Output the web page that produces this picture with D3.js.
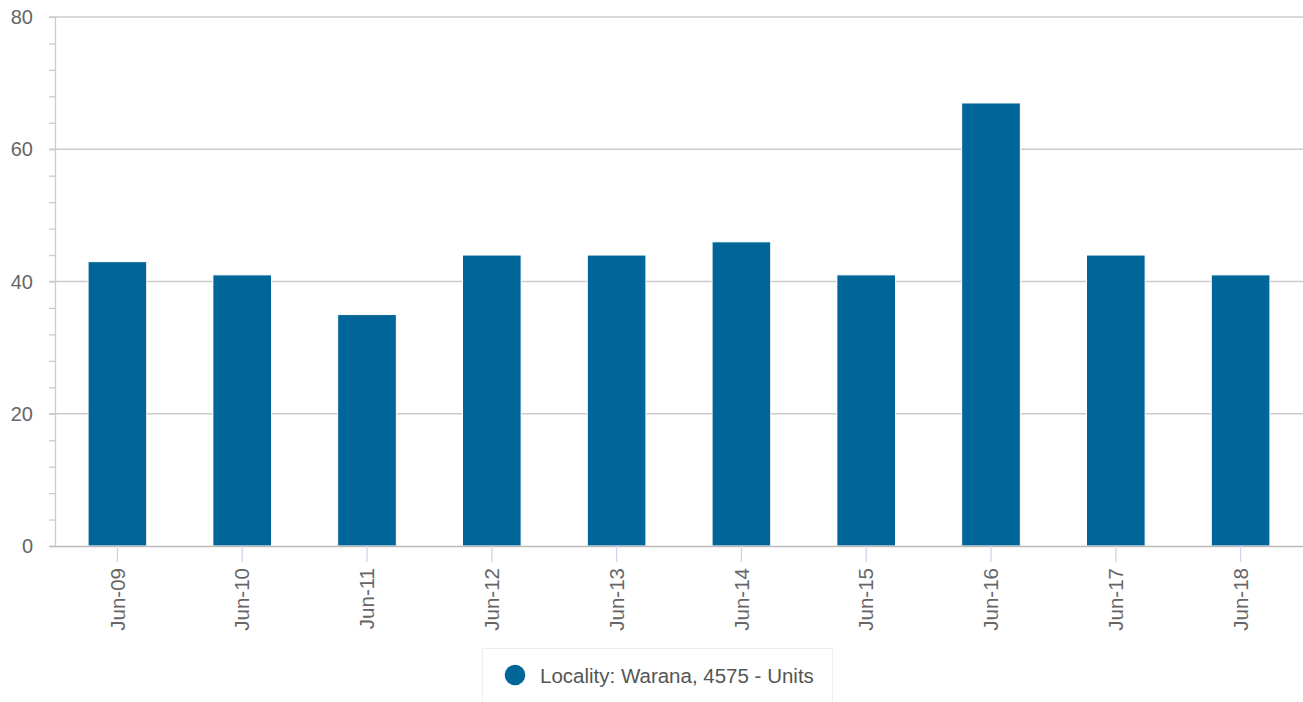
<!DOCTYPE html>
<html>
<head>
<meta charset="utf-8"/>
<script src="https://d3js.org/d3.v7.min.js"></script>
<style>
  body { margin: 0; background: #fff; }
  text { font-family: "Liberation Sans", Arial, sans-serif; }
</style>
</head>
<body>
<div id="chart"></div>
<script>
// data
var categories = ["Jun-09", "Jun-10", "Jun-11", "Jun-12", "Jun-13", "Jun-14", "Jun-15", "Jun-16", "Jun-17", "Jun-18"];
var values = [43, 41, 35, 44, 44, 46, 41, 67, 44, 41];
var yTicks = [0, 20, 40, 60, 80];
var seriesName = "Locality: Warana, 4575 - Units";

var W = 1303, H = 702;
var margin = {top: 17, right: 0, bottom: 156, left: 55};
var width = W - margin.left - margin.right,
    height = H - margin.top - margin.bottom;

var svg = d3.select("#chart").append("svg")
    .attr("width", W).attr("height", H);
var g = svg.append("g")
    .attr("transform", "translate(" + margin.left + "," + margin.top + ")");

var x = d3.scaleBand().domain(categories).range([0, width]).paddingInner(0.53).paddingOuter(0.265);
var y = d3.scaleLinear().domain([0, 80]).range([height, 0]);

// gridlines
g.selectAll(".grid").data(yTicks.slice(1)).enter().append("line")
    .attr("x1", -6).attr("x2", width)
    .attr("y1", function(d) { return y(d); }).attr("y2", function(d) { return y(d); })
    .attr("stroke", "#cccccc").attr("stroke-width", 1.3);

// y axis with minor ticks every 4
var yAxis = g.append("g").call(d3.axisLeft(y).tickValues(d3.range(0, 81, 4)).tickSize(6).tickFormat(""));
yAxis.select(".domain").attr("stroke", "#cccccc").attr("stroke-width", 1.3).attr("d", "M0.5," + height + "V0");
yAxis.selectAll(".tick line").attr("stroke", "#cccccc").attr("stroke-width", 1.3);

g.selectAll(".ylab").data(yTicks).enter().append("text")
    .attr("x", -22).attr("y", function(d) { return y(d); })
    .attr("dy", "0.35em").attr("text-anchor", "end")
    .style("font-size", "20px").attr("fill", "#666666")
    .text(function(d) { return d; });

// bars
g.selectAll(".bar").data(values).enter().append("rect")
    .attr("x", function(d, i) { return x(categories[i]); })
    .attr("y", function(d) { return y(d); })
    .attr("width", x.bandwidth())
    .attr("height", function(d) { return height - y(d); })
    .attr("fill", "#006699")
    .attr("stroke", "#ffffff").attr("stroke-width", 1);

// x axis
var xAxis = g.append("g").attr("transform", "translate(0," + height + ")")
    .call(d3.axisBottom(x).tickSize(16).tickSizeOuter(0));
xAxis.select(".domain").attr("stroke", "#bbbbbb").attr("stroke-width", 1.5).attr("d", "M-6,0.5H" + width);
xAxis.selectAll(".tick line").attr("stroke", "#ccd6eb").attr("stroke-width", 1.3);
xAxis.selectAll(".tick text")
    .attr("transform", "rotate(-90)")
    .attr("x", -22).attr("y", 0).attr("dy", "0.35em")
    .attr("text-anchor", "end")
    .style("font-size", "20.5px").style("font-family", "'Liberation Sans', Arial, sans-serif")
    .attr("fill", "#666666");

// legend
var lg = svg.append("g");
lg.append("rect").attr("x", 482.5).attr("y", 648.5).attr("width", 350).attr("height", 60)
    .attr("fill", "#ffffff").attr("stroke", "#eeeeee");
lg.append("circle").attr("cx", 515).attr("cy", 675).attr("r", 10.3).attr("fill", "#006699");
lg.append("text").attr("x", 540).attr("y", 676).attr("dy", "0.35em")
    .style("font-size", "20.5px").attr("fill", "#555555")
    .text(seriesName);
</script>
</body>
</html>
